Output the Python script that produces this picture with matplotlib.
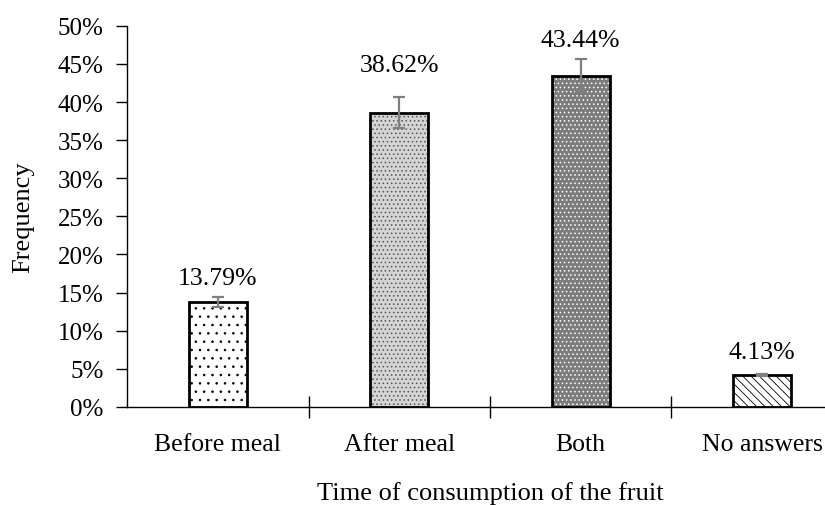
import numpy as np
import matplotlib.pyplot as plt
from matplotlib.ticker import PercentFormatter

# --- dados ---
categorias = ["Before meal", "After meal", "Both", "No answers"]
frequencias = [13.79, 38.62, 43.44, 4.13]
erros = [0.65, 2.0, 2.15, 0.12]
rotulos = ["13.79%", "38.62%", "43.44%", "4.13%"]

# estilo de cada barra (fundo, cor do hachurado, hachurado)
fundos = ["white", "#d4d4d4", "#7c7c7c", "white"]
cores_hatch = ["black", "#555555", "white", "black"]
hatches = ["..", "....", "....", "\\\\\\\\"]
# distância (pt) entre o topo do erro e a linha de base do rótulo
desloc_rotulo = [9.5, 19, 9.5, 11.5]

plt.rcParams['font.family'] = ['Liberation Serif', 'DejaVu Serif']
plt.rcParams['hatch.linewidth'] = 0.6

fig = plt.figure(figsize=(8.25, 5.06), dpi=100)
ax = fig.add_axes([0.154, 0.194, 0.846, 0.753])

x = np.arange(len(categorias))
largura = 0.32

for xi, v, f, hc, h in zip(x, frequencias, fundos, cores_hatch, hatches):
    ax.bar(xi, v, width=largura, color=f, edgecolor="none", zorder=2)
    ax.bar(xi, v, width=largura, color="none", edgecolor=hc, hatch=h,
           linewidth=0, zorder=3)
    ax.bar(xi, v, width=largura, color="none", edgecolor="black",
           linewidth=2, zorder=4)

ax.errorbar(x, frequencias, yerr=erros, fmt="none", ecolor="#7f7f7f",
            elinewidth=1.6, capsize=4, capthick=1.6, zorder=5)

for xi, v, e, r, d in zip(x, frequencias, erros, rotulos, desloc_rotulo):
    ax.annotate(r, (xi, v + e), xytext=(0, d), textcoords="offset points",
                ha="center", va="baseline", fontsize=18.5)

ax.set_xlim(-0.5, 3.346)
ax.set_ylim(0, 50)
ax.set_yticks(np.arange(0, 51, 5))
ax.yaxis.set_major_formatter(PercentFormatter(decimals=0))
ax.set_xticks(x)
ax.set_xticklabels(categorias)
ax.set_xticks([0.5, 1.5, 2.5], minor=True)

ax.tick_params(axis="y", direction="out", length=8, width=1, labelsize=18,
               pad=9)
ax.tick_params(axis="x", which="major", length=0, labelsize=18.5, pad=19)
ax.tick_params(axis="x", which="minor", direction="inout", length=16, width=1)

for lado in ["top", "right"]:
    ax.spines[lado].set_visible(False)
for lado in ["left", "bottom"]:
    ax.spines[lado].set_linewidth(1)

# título do eixo x encostado na margem de baixo, como no original
fig.text(490 / 825, 1 - 500 / 506, "Time of consumption of the fruit",
         ha="center", va="baseline", fontsize=19)
ax.set_ylabel("Frequency", fontsize=19, labelpad=17)

fig.savefig("out.png", dpi=100)
